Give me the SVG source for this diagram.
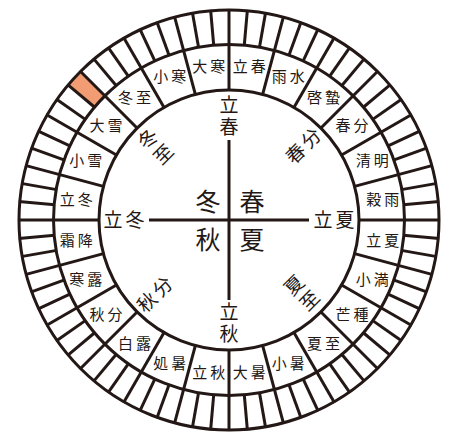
<svg xmlns="http://www.w3.org/2000/svg" xmlns:xlink="http://www.w3.org/1999/xlink" width="454" height="436" viewBox="0 0 454 436">
<style>
.ln{stroke:#231815;stroke-width:3;fill:none}
.t{font-family:"Noto Sans CJK JP","Noto Sans CJK SC",sans-serif;fill:#231815;text-anchor:middle}
.term{font-size:15px}
.ax{font-size:19px}
.ctr{font-size:25px}
</style>
<defs>
<g id="seg" class="ln">
<line x1="229" y1="91" x2="229" y2="9"/>
<line x1="229" y1="45" x2="229" y2="9" transform="rotate(5 229 220)"/>
<line x1="229" y1="45" x2="229" y2="9" transform="rotate(10 229 220)"/>
</g>
</defs>
<rect width="454" height="436" fill="#ffffff"/>
<g id="highlight">
<path d="M68.1,85.0 A210,210 0 0,1 80.5,71.5 L104.9,95.9 A175.5,175.5 0 0,0 94.6,107.2 Z" fill="#f29c73"/>
</g>
<g id="rings" class="ln">
<circle cx="229" cy="220" r="210"/>
<circle cx="229" cy="220" r="175.5"/>
<circle cx="229" cy="220" r="130"/>
</g>
<g id="ticks">
<use xlink:href="#seg"/>
<use xlink:href="#seg" transform="rotate(15 229 220)"/>
<use xlink:href="#seg" transform="rotate(30 229 220)"/>
<use xlink:href="#seg" transform="rotate(45 229 220)"/>
<use xlink:href="#seg" transform="rotate(60 229 220)"/>
<use xlink:href="#seg" transform="rotate(75 229 220)"/>
<use xlink:href="#seg" transform="rotate(90 229 220)"/>
<use xlink:href="#seg" transform="rotate(105 229 220)"/>
<use xlink:href="#seg" transform="rotate(120 229 220)"/>
<use xlink:href="#seg" transform="rotate(135 229 220)"/>
<use xlink:href="#seg" transform="rotate(150 229 220)"/>
<use xlink:href="#seg" transform="rotate(165 229 220)"/>
<use xlink:href="#seg" transform="rotate(180 229 220)"/>
<use xlink:href="#seg" transform="rotate(195 229 220)"/>
<use xlink:href="#seg" transform="rotate(210 229 220)"/>
<use xlink:href="#seg" transform="rotate(225 229 220)"/>
<use xlink:href="#seg" transform="rotate(240 229 220)"/>
<use xlink:href="#seg" transform="rotate(255 229 220)"/>
<use xlink:href="#seg" transform="rotate(270 229 220)"/>
<use xlink:href="#seg" transform="rotate(285 229 220)"/>
<use xlink:href="#seg" transform="rotate(300 229 220)"/>
<use xlink:href="#seg" transform="rotate(315 229 220)"/>
<use xlink:href="#seg" transform="rotate(330 229 220)"/>
<use xlink:href="#seg" transform="rotate(345 229 220)"/>
</g>
<g id="connectors" class="ln">
<line x1="149" y1="220" x2="309" y2="220"/>
<line x1="229" y1="140" x2="229" y2="300"/>
</g>
<g id="terms" class="t term">
<g id="term-01"><text x="240.2 258.2" y="71.8">立春</text></g>
<g id="term-02"><text x="279.3 297.3" y="82.3">雨水</text></g>
<g id="term-03"><text x="314.4 332.4" y="102.5">啓蟄</text></g>
<g id="term-04"><text x="343 361" y="131.1">春分</text></g>
<g id="term-05"><text x="363.2 381.2" y="166.2">清明</text></g>
<g id="term-06"><text x="373.7 391.7" y="205.3">穀雨</text></g>
<g id="term-07"><text x="373.7 391.7" y="245.7">立夏</text></g>
<g id="term-08"><text x="363.2 381.2" y="284.8">小満</text></g>
<g id="term-09"><text x="343 361" y="319.9">芒種</text></g>
<g id="term-10"><text x="314.4 332.4" y="348.5">夏至</text></g>
<g id="term-11"><text x="279.3 297.3" y="368.7">小暑</text></g>
<g id="term-12"><text x="240.2 258.2" y="378.2">大暑</text></g>
<g id="term-13"><text x="199.8 217.8" y="378.2">立秋</text></g>
<g id="term-14"><text x="160.7 178.7" y="368.7">処暑</text></g>
<g id="term-15"><text x="125.6 143.6" y="348.5">白露</text></g>
<g id="term-16"><text x="97 115" y="319.9">秋分</text></g>
<g id="term-17"><text x="76.8 94.8" y="284.8">寒露</text></g>
<g id="term-18"><text x="67.3 85.3" y="245.7">霜降</text></g>
<g id="term-19"><text x="67.3 85.3" y="205.3">立冬</text></g>
<g id="term-20"><text x="76.8 94.8" y="166.2">小雪</text></g>
<g id="term-21"><text x="97 115" y="131.1">大雪</text></g>
<g id="term-22"><text x="125.6 143.6" y="102.5">冬至</text></g>
<g id="term-23"><text x="160.7 178.7" y="82.3">小寒</text></g>
<g id="term-24"><text x="199.8 217.8" y="71.8">大寒</text></g>
</g>
<g id="axis-labels" class="t ax">
<g id="lbl-risshun"><text x="229 229" y="112 134">立春</text></g>
<g id="lbl-rikka"><text x="323 345" y="227">立夏</text></g>
<g id="lbl-risshu"><text x="229 229" y="319 341">立秋</text></g>
<g id="lbl-ritto"><text x="113 135" y="227">立冬</text></g>
<g id="lbl-toji"><text x="229 229" y="112 134" transform="rotate(-45 229 220)">冬至</text></g>
<g id="lbl-shunbun"><text x="323 345" y="227" transform="rotate(-45 229 220)">春分</text></g>
<g id="lbl-geshi"><text x="229 229" y="319 341" transform="rotate(-45 229 220)">夏至</text></g>
<g id="lbl-shubun"><text x="113 135" y="227" transform="rotate(-45 229 220)">秋分</text></g>
</g>
<g id="seasons" class="t ctr">
<g id="s-winter"><text x="208" y="211">冬</text></g>
<g id="s-spring"><text x="252" y="211">春</text></g>
<g id="s-autumn"><text x="208" y="249">秋</text></g>
<g id="s-summer"><text x="252" y="249">夏</text></g>
</g>
</svg>
